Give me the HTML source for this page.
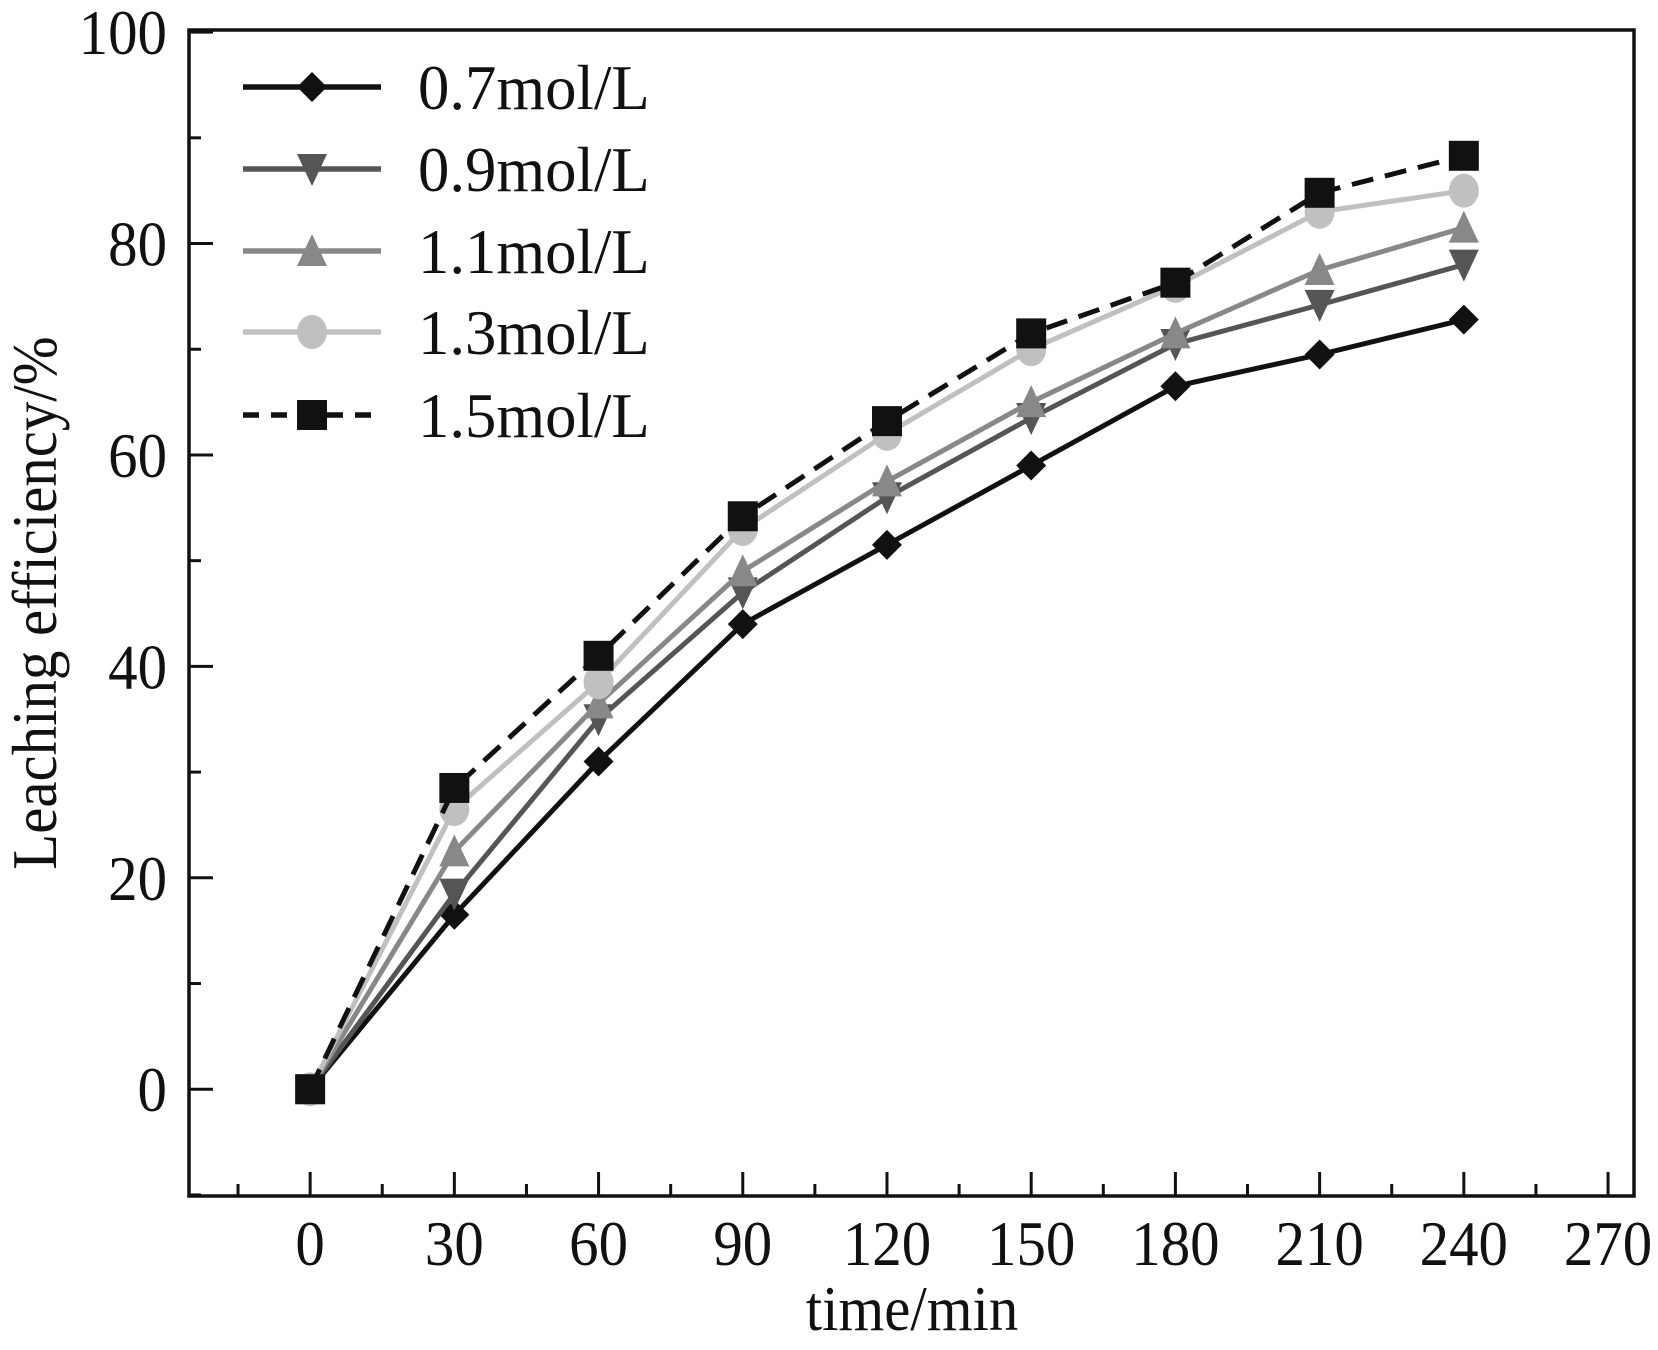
<!DOCTYPE html>
<html><head><meta charset="utf-8"><style>
html,body{margin:0;padding:0;background:#fff;}
svg{display:block;font-family:"Liberation Serif",serif;}
</style></head><body>
<svg id="chart" width="1658" height="1350" xmlns="http://www.w3.org/2000/svg"></svg>
<script>
const categories=[0,30,60,90,120,150,180,210,240];
const s07=[0,16.5,31,44,51.5,59,66.5,69.5,72.8];
const s09=[0,18.5,35,47,56,63.5,70.5,74.2,78];
const s11=[0,22.5,36.5,49,57.5,65,71.5,77.5,81.5];
const s13=[0,26.5,38.5,53,62,70,76,83,85];
const s15=[0,28.5,41,54.2,63.2,71.5,76.3,84.8,88.3];
const seriesLabels=["0.7mol/L","0.9mol/L","1.1mol/L","1.3mol/L","1.5mol/L"];
const xTicks=[0,30,60,90,120,150,180,210,240,270];
const yTicks=[0,20,40,60,80,100];

const L=189,T=30,R=1634,B=1196;
const X0=-25.2,X1=275.4,Y0=-10.1,Y1=100.2;
const sx=v=>L+(v-X0)/(X1-X0)*(R-L);
const sy=v=>B-(v-Y0)/(Y1-Y0)*(B-T);
const svg=document.getElementById('chart');
const NS='http://www.w3.org/2000/svg';
function mk(tag,at,parent){const e=document.createElementNS(NS,tag);for(const k in at)e.setAttribute(k,at[k]);(parent||svg).appendChild(e);return e;}
function txt(x,y,size,anchor,s,parent,sc){
  const e=mk('text',{x:0,y:0,'font-size':size,'text-anchor':anchor,fill:'#111',transform:`translate(${x},${y}) scale(${sc||0.92},1)`},parent);
  e.textContent=s;return e;
}

const frame=mk('rect',{x:L,y:T,width:R-L,height:B-T,fill:'none',stroke:'#111','stroke-width':3.5});



for(let v=-15;v<=270;v+=15){
  const maj=v%30===0;const x=sx(v);
  const t=mk('line',{x1:x,x2:x,y1:B,y2:B-(maj?24:12),stroke:'#111','stroke-width':3});
  
  
}
xTicks.forEach(v=>{
  const t=txt(sx(v),1265,64,'middle',String(v));
  
  
});
for(let v=-10;v<=100;v+=10){
  const maj=v%20===0;const y=sy(v);
  const t=mk('line',{x1:L,x2:L+(maj?24:12),y1:y,y2:y,stroke:'#111','stroke-width':3});
  
  
}
yTicks.forEach(v=>{
  const t=txt(167,sy(v)+22,64,'end',String(v));
  
  
});
const xt=txt(912,1330,64,'middle','time/min');


const yt=mk('text',{x:0,y:0,'font-size':64,'text-anchor':'middle',fill:'#111',transform:'translate(56,603) rotate(-90) scale(0.92,1)'});
yt.textContent='Leaching efficiency/%';



const colors=['#111','#555','#888','#c0c0c0','#111'];
const shapes=['diamond','down','up','circle','square'];
const data=[s07,s09,s11,s13,s15];
function marker(g,shape,x,y,c){
  const r=15;let e;
  if(shape==='diamond')e=mk('polygon',{points:`${x},${y-r} ${x+r},${y} ${x},${y+r} ${x-r},${y}`,fill:c},g);
  else if(shape==='down')e=mk('polygon',{points:`${x-r},${y-r} ${x+r},${y-r} ${x},${y+r+2}`,fill:c},g);
  else if(shape==='up')e=mk('polygon',{points:`${x},${y-r-2} ${x+r},${y+r} ${x-r},${y+r}`,fill:c},g);
  else if(shape==='circle')e=mk('ellipse',{cx:x,cy:y,rx:r,ry:r+2,fill:c},g);
  else e=mk('rect',{x:x-r,y:y-r,width:2*r,height:2*r,fill:c},g);
  
  
}
data.forEach((s,i)=>{
  const g=mk('g',{});
  
  
  const pts=s.map((v,j)=>sx(categories[j])+','+sy(v)).join(' ');
  const pl=mk('polyline',{points:pts,fill:'none',stroke:colors[i],'stroke-width':5,'stroke-dasharray':i===4?'22,12':'none'},g);
  
  
  s.forEach((v,j)=>marker(g,shapes[i],sx(categories[j]),sy(v),colors[i]));
  const ly=[87,169,251,332,415][i];
  const lg=mk('g',{});
  
  
  const ll=mk('line',{x1:243,x2:381,y1:ly,y2:ly,stroke:colors[i],'stroke-width':5.5,'stroke-dasharray':i===4?'16,12':'none'},lg);
  
  
  marker(lg,shapes[i],312,ly,colors[i]);
  const lt=txt(418,ly+22,64,'start',seriesLabels[i],lg,0.98);
  
  
});
</script>
</body></html>
